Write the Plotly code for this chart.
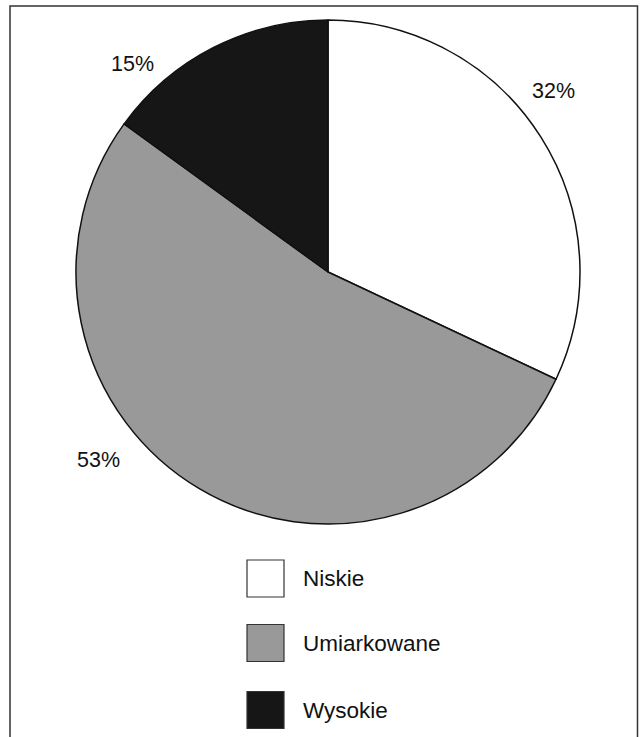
import plotly.graph_objects as go

W, H = 644, 737

categories = ["Niskie", "Umiarkowane", "Wysokie"]
values = [32, 53, 15]
colors = ["#ffffff", "#999999", "#161616"]
# label positions (pixels) for percentage labels
label_px = [(553, 91), (98, 460), (132, 64)]

def px(x):
    return x / W

def py(y):
    return 1 - y / H

fig = go.Figure()
fig.add_trace(go.Pie(
    labels=categories,
    values=values,
    sort=False,
    direction="clockwise",
    rotation=0,
    marker=dict(colors=colors, line=dict(color="#111111", width=1.5)),
    textinfo="none",
    hoverinfo="label+percent",
    showlegend=False,
    domain=dict(x=[px(76), px(580)], y=[py(524), py(20)]),
))

label_font = dict(family="Liberation Sans, Arial, sans-serif", size=21.5, color="#111111")
legend_font = dict(family="Liberation Sans, Arial, sans-serif", size=22.5, color="#111111")
annotations = []
total = sum(values)
for v, (lx, ly) in zip(values, label_px):
    annotations.append(dict(
        x=px(lx), y=py(ly), xref="paper", yref="paper",
        text=f"{round(100 * v / total)}%", showarrow=False,
        font=label_font, xanchor="center", yanchor="middle",
    ))

shapes = [dict(
    type="rect", xref="paper", yref="paper",
    x0=px(10), x1=px(637.5), y0=-0.05, y1=py(6),
    line=dict(color="#333333", width=1.5), fillcolor="rgba(0,0,0,0)",
)]

legend_y = [578.5, 643, 710]
for cat, col, ly in zip(categories, colors, legend_y):
    shapes.append(dict(
        type="rect", xref="paper", yref="paper",
        x0=px(247), x1=px(284), y0=py(ly + 18.5), y1=py(ly - 18.5),
        line=dict(color="#333333", width=1.2), fillcolor=col,
    ))
    annotations.append(dict(
        x=px(301), y=py(ly), xref="paper", yref="paper",
        text=cat, showarrow=False, font=legend_font,
        xanchor="left", yanchor="middle",
    ))

fig.update_layout(
    width=W, height=H,
    margin=dict(l=0, r=0, t=0, b=0),
    paper_bgcolor="#ffffff",
    plot_bgcolor="#ffffff",
    shapes=shapes,
    annotations=annotations,
)

fig.write_html(
    "out.html",
    config={"displayModeBar": False},
    post_script="document.body.style.margin='0';document.body.style.overflow='hidden';",
)
